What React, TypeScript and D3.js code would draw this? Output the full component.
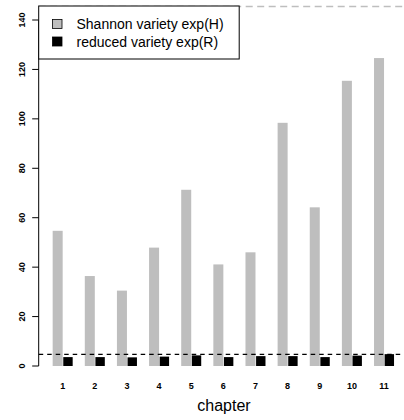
import { useEffect, useRef } from "react";
import * as d3 from "d3";

const chapters = ["1", "2", "3", "4", "5", "6", "7", "8", "9", "10", "11"];
const shannon = [54.7, 36.4, 30.5, 47.9, 71.3, 41.1, 46.0, 98.4, 64.2, 115.4, 124.6];
const reduced = [3.6, 3.6, 3.5, 3.8, 4.3, 3.6, 4.0, 4.0, 3.6, 4.2, 4.8];
const series = ["Shannon variety exp(H)", "reduced variety exp(R)"];
const colors = ["#BEBEBE", "#000000"];
const yTicks = [0, 20, 40, 60, 80, 100, 120, 140];
const refLow = 4.7;
const refHigh = 145.5;

export default function App() {
  const ref = useRef<SVGSVGElement>(null);

  useEffect(() => {
    document.body.style.margin = "0";
    const W = 404, H = 420;
    const svg = d3.select(ref.current).html("");
    svg.attr("width", W).attr("height", H).style("display", "block");

    const font = "Liberation Sans, Arial, Helvetica, sans-serif";
    const axisX = 38.7;

    const y = d3.scaleLinear().domain([0, 140]).range([366, 20]);
    const x = d3.scaleBand().domain(chapters).range([46.6, 400.1])
      .paddingInner(0.3775).paddingOuter(0.1888);
    const xs = d3.scaleBand().domain(["H", "R"]).range([0, x.bandwidth()]);

    // reference lines
    svg.append("line")
      .attr("x1", axisX).attr("x2", W)
      .attr("y1", y(refHigh)).attr("y2", y(refHigh))
      .attr("stroke", "#BEBEBE").attr("stroke-width", 1.5)
      .attr("stroke-dasharray", "7,4.5");

    const g = svg.append("g");
    chapters.forEach((c, i) => {
      g.append("rect")
        .attr("x", x(c)!).attr("width", xs.bandwidth())
        .attr("y", y(shannon[i])).attr("height", y(0) - y(shannon[i]))
        .attr("fill", colors[0]);
      g.append("rect")
        .attr("x", x(c)! + xs("R")! + 0.6).attr("width", xs.bandwidth() - 0.6)
        .attr("y", y(reduced[i])).attr("height", y(0) - y(reduced[i]))
        .attr("fill", colors[1]);
    });

    svg.append("line")
      .attr("x1", axisX).attr("x2", W)
      .attr("y1", y(refLow)).attr("y2", y(refLow))
      .attr("stroke", "#000").attr("stroke-width", 1.3)
      .attr("stroke-dasharray", "4.5,4");

    // y axis
    const ay = svg.append("g");
    ay.append("line")
      .attr("x1", axisX).attr("x2", axisX)
      .attr("y1", y(0)).attr("y2", y(140))
      .attr("stroke", "#000");
    yTicks.forEach((t) => {
      ay.append("line")
        .attr("x1", axisX - 6.5).attr("x2", axisX)
        .attr("y1", y(t)).attr("y2", y(t))
        .attr("stroke", "#000");
      ay.append("text")
        .attr("transform", `translate(25,${y(t)}) rotate(-90)`)
        .attr("text-anchor", "middle")
        .attr("font-family", font).attr("font-size", 9).attr("font-weight", "bold")
        .text(t);
    });

    // x labels
    chapters.forEach((c) => {
      svg.append("text")
        .attr("x", x(c)! + x.bandwidth() / 2).attr("y", 389)
        .attr("text-anchor", "middle")
        .attr("font-family", font).attr("font-size", 9).attr("font-weight", "bold")
        .text(c);
    });
    svg.append("text")
      .attr("x", 224).attr("y", 411)
      .attr("text-anchor", "middle")
      .attr("font-family", font).attr("font-size", 16)
      .text("chapter");

    // legend
    const lg = svg.append("g");
    lg.append("rect")
      .attr("x", axisX).attr("y", 6)
      .attr("width", 200.5).attr("height", 53)
      .attr("fill", "#fff").attr("stroke", "#000").attr("stroke-width", 1);
    series.forEach((s, i) => {
      const cy = 24 + i * 17.5;
      lg.append("rect")
        .attr("x", 52.5).attr("y", cy - 4.5)
        .attr("width", 9.5).attr("height", 9)
        .attr("fill", colors[i]).attr("stroke", "#000").attr("stroke-width", 0.8);
      lg.append("text")
        .attr("x", 76.5).attr("y", cy + 5)
        .attr("font-family", font).attr("font-size", 14)
        .text(s);
    });
  }, []);

  return <svg ref={ref} />;
}
